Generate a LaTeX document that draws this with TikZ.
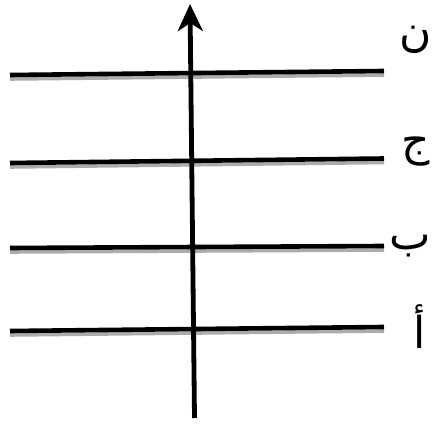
\documentclass[tikz,border=0pt]{standalone}
\usepackage{fontspec}
\newfontfamily\arabicfont[Script=Arabic]{DejaVu Sans}
\TeXXeTstate=1
\usetikzlibrary{arrows.meta}
\tikzset{
  rung/.style={line width=4.6pt},
  rungshade/.style={gray!65,line width=3.6pt},
  letter/.style={inner sep=0pt,anchor=east,font=\fontsize{44}{48}\arabicfont}
}
\begin{document}
\begin{tikzpicture}[x=1pt,y=-1pt]
\useasboundingbox (0,0) rectangle (432,425);
\coordinate (sb) at (194.5,418);
\coordinate (st) at (190,4);
\coordinate (nl) at (10,75);
\coordinate (nr) at (384,71);
\coordinate (jl) at (10,163);
\coordinate (jr) at (384,158.5);
\coordinate (bl) at (10,248);
\coordinate (br) at (384,246);
\coordinate (al) at (10,331);
\coordinate (ar) at (384,327);
\draw[rungshade] ([yshift=-4pt]nl) -- ([yshift=-4pt]nr);
\draw[rungshade] ([yshift=-4pt]jl) -- ([yshift=-4pt]jr);
\draw[rungshade] ([yshift=-4pt]bl) -- ([yshift=-4pt]br);
\draw[rungshade] ([yshift=-4pt]al) -- ([yshift=-4pt]ar);
\draw[rung] (nl) -- (nr);
\draw[rung] (jl) -- (jr);
\draw[rung] (bl) -- (br);
\draw[rung] (al) -- (ar);
\draw[line width=4.8pt,-{Stealth[length=27pt,width=25pt,inset=8pt]}] (sb) -- (st);
\node[letter] (nun) at (432,40) {\beginR ن\endR};
\node[letter] (jim) at (430,152) {\beginR ج\endR};
\node[letter] (ba) at (431,246) {\beginR ب\endR};
\node[letter] (alif) at (426,327) {\beginR أ\endR};
\end{tikzpicture}
\end{document}
